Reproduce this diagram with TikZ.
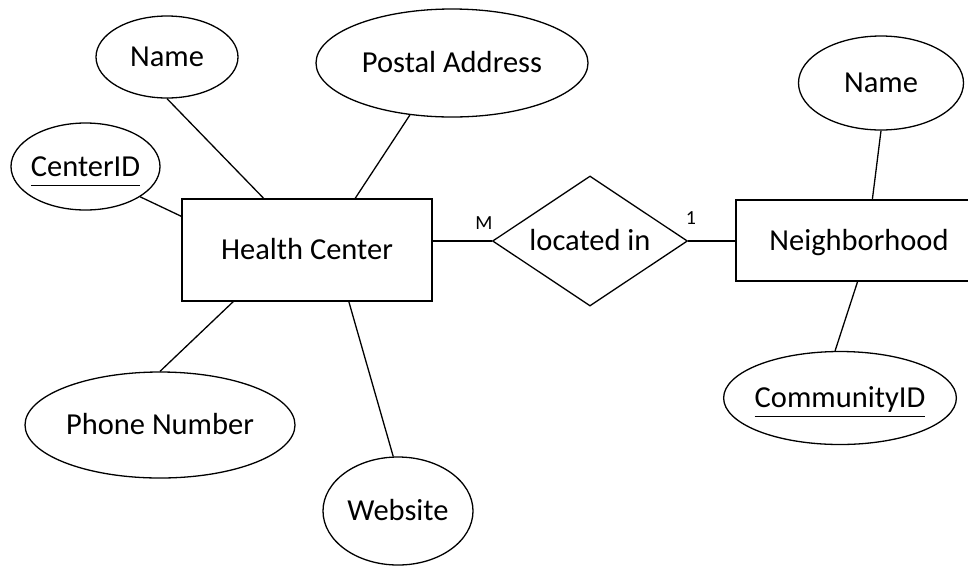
\documentclass[tikz,border=0pt]{standalone}
\usepackage{fontspec}
\setmainfont{Carlito}
\usetikzlibrary{shapes.geometric}
\newcommand{\keyattr}[1]{\setbox0\hbox{#1}\rlap{\smash{\rule[-9.5pt]{\wd0}{1.2pt}}}\box0}
\begin{document}
\begin{tikzpicture}[x=1pt,y=-1pt,
    every node/.append style={font=\fontsize{30.5}{36}\selectfont},
    entity/.style={draw,line width=1.3pt,rectangle,inner sep=0pt,text height=19.6pt,text depth=0pt},
    attrib/.style={draw,line width=1.3pt,ellipse,inner sep=-3pt,text height=19.6pt,text depth=0pt},
    relation/.style={draw,line width=1.3pt,diamond,aspect=1.5,inner sep=0pt,text height=19.6pt,text depth=0pt},
    card/.style={inner sep=0pt,font=\fontsize{20}{24}\selectfont},
    link/.style={line width=1.3pt}]
                \useasboundingbox (0,0) rectangle (968,566);
                \clip (0,0) rectangle (968,566);
                \node [entity, minimum width=250, minimum height=102] (hc) at (307,250) {Health Center};
                \node [entity, minimum width=246, minimum height=81] (nb) at (859,240.5) {Neighborhood};
                \node [relation, minimum width=195, minimum height=130] (loc) at (590,241) {located in};
                \node [attrib, minimum width=142, minimum height=82] (name1) at (167,57) {Name};
                \node [attrib, minimum width=272, minimum height=108] (postal) at (452,63) {Postal Address};
                \node [attrib, minimum width=149, minimum height=87] (cid) at (85.5,166.5) {\keyattr{CenterID}};
                \node [attrib, minimum width=270, minimum height=106] (phone) at (160,425) {Phone Number};
                \node [attrib, minimum width=150, minimum height=108] (web) at (398,511) {Website};
                \node [attrib, minimum width=165, minimum height=94] (name2) at (881,83) {Name};
                \node [attrib, minimum width=230, minimum height=93] (comid) at (840,398) {\keyattr{CommunityID}};
                \node [card] (m) at (484,223) {M};
                \node [card] (one) at (691,218) {1};
                \draw [link] (name1.south) -- (hc.130.8);
                \draw [link] (postal.231.1) -- (hc.47.9);
                \draw [link] (cid.-29.2) -- (hc.165.6);
                \draw [link] (hc.215.3) -- (phone.north);
                \draw [link] (hc.-51.2) -- (web.95);
                \draw [link] (hc.east |- loc.west) -- (loc.west);
                \draw [link] (loc.east) -- (loc.east -| nb.west);
                \draw [link] (nb.72.2) -- (name2.south);
                \draw [link] (nb.268.6) -- (comid.96);
            \end{tikzpicture}
\end{document}
